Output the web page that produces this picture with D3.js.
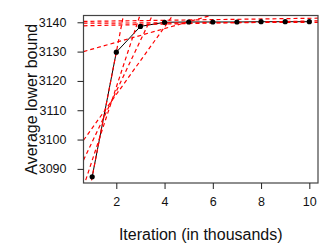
<!DOCTYPE html>
<html>
<head>
<meta charset="utf-8">
<script src="https://cdn.jsdelivr.net/npm/d3@7"></script>
<style>
  body { margin: 0; background: #fff; }
  svg { display: block; font-family: "Liberation Sans", Arial, sans-serif; }
</style>
</head>
<body>
<div id="chart"></div>
<script>
// iterations (thousands) and the average lower bound at each one
const iterations = [1, 2, 3, 4, 5, 6, 7, 8, 9, 10];
const lowerBound = [3087.3, 3129.8, 3138.6, 3140.0, 3140.1, 3140.1, 3140.1, 3140.2, 3140.2, 3140.2];

// red dashed reference lines: y = intercept + slope * x
const refIntercepts = [3044.8, 3067.9, 3081.9, 3092.4, 3128.5, 3140.23, 3139.68, 3138.69];
const refSlopes     = [42.5,   25.0,   17.3,   11.5,   2.34,   0.113,   0.031,   0.175];

const xTicks = [2, 4, 6, 8, 10];
const yTicks = [3090, 3100, 3110, 3120, 3130, 3140];

const width = 335, height = 252;
const margins = {top: 15.5, right: 17, bottom: 69, left: 83.5};

const svg = d3.select("#chart")
    .append("svg")
    .attr("width", width)
    .attr("height", height);

/* R style axis range: data extent padded 4% on each side */
const pad = (ext) => {
    const r = ext[1] - ext[0];
    return [ext[0] - 0.04 * r, ext[1] + 0.04 * r];
};

const xScale = d3.scaleLinear()
    .domain(pad(d3.extent(iterations)))
    .range([margins.left, width - margins.right]);
const yScale = d3.scaleLinear()
    .domain(pad(d3.extent(lowerBound)))
    .range([height - margins.bottom, margins.top]);

svg.append("clipPath")
    .attr("id", "plot-area")
    .append("rect")
    .attr("x", margins.left)
    .attr("y", margins.top)
    .attr("width", width - margins.left - margins.right)
    .attr("height", height - margins.top - margins.bottom);

const points = iterations.map((x, i) => ({x: x, y: lowerBound[i]}));

// black line with points
const line = d3.line().x(d => xScale(d.x)).y(d => yScale(d.y));
svg.append("path")
    .datum(points)
    .attr("d", line)
    .attr("fill", "none")
    .attr("stroke", "#000")
    .attr("stroke-width", 1);

// red dashed lines, clipped to the plot box
const [x0, x1] = xScale.domain();
const refs = refIntercepts.map((a, i) => ({a: a, b: refSlopes[i]}));
svg.append("g")
    .attr("clip-path", "url(#plot-area)")
    .selectAll("line")
    .data(refs)
    .join("line")
    .attr("x1", xScale(x0))
    .attr("x2", xScale(x1))
    .attr("y1", d => yScale(d.a + d.b * x0))
    .attr("y2", d => yScale(d.a + d.b * x1))
    .attr("stroke", "#ff0000")
    .attr("stroke-width", 1.2)
    .attr("stroke-dasharray", "4,3");

svg.append("g")
    .selectAll("circle")
    .data(points)
    .join("circle")
    .attr("cx", d => xScale(d.x))
    .attr("cy", d => yScale(d.y))
    .attr("r", 2.6)
    .attr("fill", "#000");

// box
svg.append("rect")
    .attr("x", margins.left)
    .attr("y", margins.top)
    .attr("width", width - margins.left - margins.right)
    .attr("height", height - margins.top - margins.bottom)
    .attr("fill", "none")
    .attr("stroke", "#444")
    .attr("stroke-width", 1.2);

/* axes */
const xAxis = d3.axisBottom(xScale).tickValues(xTicks).tickSize(6).tickPadding(8);
const yAxis = d3.axisLeft(yScale).tickValues(yTicks).tickFormat(d3.format("d"))
    .tickSize(6).tickPadding(11);

const xGroup = svg.append("g")
    .attr("transform", `translate(0,${height - margins.bottom})`)
    .call(xAxis);
const yGroup = svg.append("g")
    .attr("transform", `translate(${margins.left},0)`)
    .call(yAxis);

[xGroup, yGroup].forEach(g => {
    g.select(".domain").remove();
    g.selectAll("line").attr("stroke", "#222");
    g.selectAll("text")
        .attr("fill", "#111")
        .style("font-family", "'Liberation Sans', Arial, sans-serif")
        .style("font-size", "12.5px");
});

svg.append("text")
    .attr("x", (margins.left + width - margins.right) / 2)
    .attr("y", 240)
    .attr("text-anchor", "middle")
    .attr("fill", "#111")
    .style("font-size", "16px")
    .text("Iteration (in thousands)");

svg.append("text")
    .attr("transform", `translate(37,${(margins.top + height - margins.bottom) / 2}) rotate(-90)`)
    .attr("text-anchor", "middle")
    .attr("fill", "#111")
    .style("font-size", "16px")
    .text("Average lower bound");
</script>
</body>
</html>
